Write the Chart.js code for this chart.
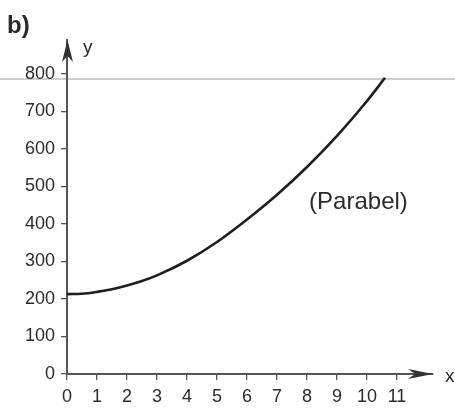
<!DOCTYPE html>
<html>
<head>
<meta charset="utf-8">
<script src="https://cdn.jsdelivr.net/npm/chart.js@4/dist/chart.umd.min.js"></script>
<style>
html,body{margin:0;padding:0;background:#fff;}
#wrap{position:relative;width:455px;height:408px;}
</style>
</head>
<body>
<div id="wrap"><canvas id="c" width="455" height="408"></canvas></div>
<script>
// ---- data ----
const xValues = [0, 0.5, 1, 1.5, 2, 2.5, 3, 4, 5, 6, 7, 8, 9, 10, 10.6];
const yValues = [213, 214, 219, 226, 236, 248, 263, 302, 352, 412, 478, 552, 635, 728, 790];
const xTickLabels = ['0','1','2','3','4','5','6','7','8','9','10','11'];
const yTickLabels = ['0','100','200','300','400','500','600','700','800'];
const refLineValue = 787;
const panelLabel = 'b)';
const curveLabel = '(Parabel)';
const curveLabelPos = [8.07, 440];
const xAxisName = 'x';
const yAxisName = 'y';
const xMax = 12.2;
const yMax = 890.7;

const AXIS = '#555555';
const TEXT = '#2b2b2b';
const FONT = "'Liberation Sans', Arial, sans-serif";

const points = xValues.map((x, i) => ({x: x, y: yValues[i]}));

function stealth(ctx, tipX, tipY, dirX, dirY, len, half, notch) {
  const px = -dirY, py = dirX;
  const bx = tipX - dirX * len, by = tipY - dirY * len;
  const nx = tipX - dirX * (len - notch), ny = tipY - dirY * (len - notch);
  ctx.beginPath();
  ctx.moveTo(tipX, tipY);
  ctx.lineTo(bx + px * half, by + py * half);
  ctx.lineTo(nx, ny);
  ctx.lineTo(bx - px * half, by - py * half);
  ctx.closePath();
  ctx.fill();
}

const decor = {
  id: 'decor',
  beforeDraw(chart) {
    const ctx = chart.ctx;
    const ys = chart.scales.y;
    const yy = ys.getPixelForValue(refLineValue);
    ctx.save();
    ctx.strokeStyle = '#cfcfcf';
    ctx.lineWidth = 2;
    ctx.beginPath();
    ctx.moveTo(0, yy);
    ctx.lineTo(chart.width, yy);
    ctx.stroke();
    ctx.restore();
  },
  afterDraw(chart) {
    const ctx = chart.ctx;
    const xs = chart.scales.x, ys = chart.scales.y;
    const ca = chart.chartArea;
    ctx.save();
    ctx.fillStyle = '#333333';
    stealth(ctx, ca.left + 0.5, ca.top, 0, -1, 22, 5.5, 6);
    stealth(ctx, ca.right, ca.bottom, 1, 0, 25, 5, 7);
    ctx.fillStyle = TEXT;
    ctx.textBaseline = 'alphabetic';
    ctx.textAlign = 'left';
    ctx.font = "bold 24px " + FONT;
    ctx.fillText(panelLabel, 7, 33);
    ctx.font = "19px " + FONT;
    ctx.fillText(yAxisName, ca.left + 16, ca.top + 13);
    ctx.fillText(xAxisName, ca.right + 12, ca.bottom + 8);
    ctx.font = "24px " + FONT;
    ctx.fillText(curveLabel, xs.getPixelForValue(curveLabelPos[0]), ys.getPixelForValue(curveLabelPos[1]));
    ctx.restore();
  }
};

new Chart(document.getElementById('c'), {
  type: 'scatter',
  data: {
    datasets: [{
      data: points,
      showLine: true,
      borderColor: '#1e1e1e',
      borderWidth: 2.6,
      pointRadius: 0,
      cubicInterpolationMode: 'monotone',
      fill: false
    }]
  },
  options: {
    responsive: false,
    animation: false,
    devicePixelRatio: 1,
    layout: {padding: {top: 40, right: 22, left: 0, bottom: 0}},
    plugins: {legend: {display: false}, tooltip: {enabled: false}, title: {display: false}},
    scales: {
      x: {
        type: 'linear',
        min: 0,
        max: xMax,
        afterBuildTicks: s => { s.ticks = xTickLabels.map(v => ({value: Number(v)})); },
        afterFit: s => { s.height = 34; },
        ticks: {
          callback: (v) => String(v),
          color: TEXT,
          font: {family: FONT, size: 18},
          padding: 6,
          autoSkip: false,
          maxRotation: 0
        },
        grid: {drawOnChartArea: false, drawTicks: true, tickLength: 6, color: AXIS, lineWidth: 1.3},
        border: {display: true, color: AXIS, width: 2}
      },
      y: {
        type: 'linear',
        min: 0,
        max: yMax,
        afterBuildTicks: s => { s.ticks = yTickLabels.map(v => ({value: Number(v)})); },
        afterFit: s => { s.width = 67; },
        ticks: {
          callback: (v) => String(v),
          color: TEXT,
          font: {family: FONT, size: 18},
          padding: 6,
          autoSkip: false
        },
        grid: {drawOnChartArea: false, drawTicks: true, tickLength: 6, color: AXIS, lineWidth: 1.3},
        border: {display: true, color: AXIS, width: 2}
      }
    }
  },
  plugins: [decor]
});
</script>
</body>
</html>
